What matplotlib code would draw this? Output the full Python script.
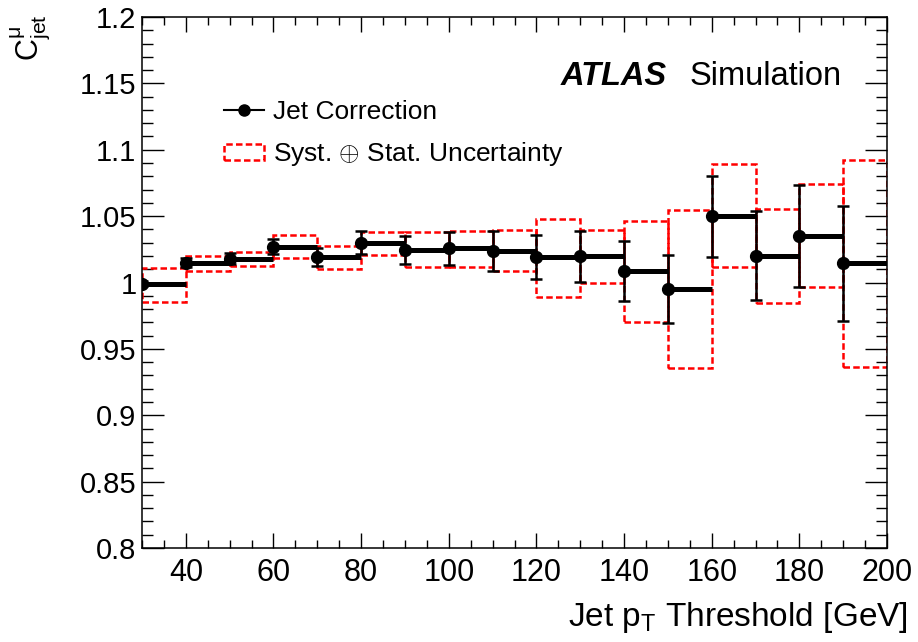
import matplotlib
matplotlib.use("Agg")
import matplotlib.pyplot as plt
from matplotlib.lines import Line2D
from matplotlib.patches import Patch
from matplotlib.ticker import MultipleLocator, FixedLocator, FuncFormatter

# Jet pT threshold bins (lower edges, GeV) and bin width
pt_threshold = [30, 40, 50, 60, 70, 80, 90, 100, 110, 120, 130, 140, 150, 160, 170, 180, 190]
bin_width = 10

# Jet correction factor and its statistical uncertainty
correction = [0.999, 1.015, 1.018, 1.027, 1.019, 1.030, 1.0245, 1.0258, 1.0237, 1.019,
              1.0197, 1.009, 0.995, 1.050, 1.0202, 1.0353, 1.0145]
stat_err = [0.002, 0.0034, 0.0044, 0.0056, 0.0068, 0.0088, 0.0108, 0.0123, 0.015, 0.0166,
            0.0194, 0.0226, 0.0256, 0.0305, 0.0337, 0.0385, 0.0435]

# Syst. (+) Stat. uncertainty band edges
band_up = [1.0107, 1.0202, 1.0232, 1.0358, 1.0275, 1.0383, 1.0380, 1.0390, 1.0395, 1.0478,
           1.0395, 1.0466, 1.0546, 1.0893, 1.0551, 1.0740, 1.0923]
band_down = [0.9853, 1.0089, 1.0127, 1.0187, 1.0102, 1.0207, 1.0119, 1.0119, 1.0087, 0.9893,
             1.0000, 0.9705, 0.9358, 1.0117, 0.9848, 0.9968, 0.9366]

y_ticks = [0.8, 0.85, 0.9, 0.95, 1.0, 1.05, 1.1, 1.15, 1.2]
x_ticks = [40, 60, 80, 100, 120, 140, 160, 180, 200]

plt.rcParams["font.family"] = ["Liberation Sans", "DejaVu Sans"]
plt.rcParams["mathtext.fontset"] = "custom"
plt.rcParams["mathtext.rm"] = "Liberation Sans"
plt.rcParams["mathtext.it"] = "Liberation Sans:italic"

fig = plt.figure(figsize=(9.18, 6.42), dpi=100)
W, H = 918, 642
ax = fig.add_axes([142 / W, 1 - 548 / H, (887 - 142) / W, (548 - 17) / H])

# Uncertainty band: one dashed box per bin
heights = [u - d for u, d in zip(band_up, band_down)]
ax.bar(pt_threshold, heights, bottom=band_down, width=bin_width, align="edge",
       fill=False, edgecolor="#ff0000", linewidth=1.8, linestyle=(0, (2.6, 1.3)), zorder=2)

# Correction per bin: horizontal bar over the bin, point with stat error at the lower edge
right_edges = [p + bin_width for p in pt_threshold]
ax.hlines(correction, pt_threshold, right_edges, colors="black", linewidth=3.6, zorder=3)
ax.errorbar(pt_threshold, correction, yerr=stat_err, fmt="o", color="black",
            markersize=8.5, elinewidth=1.8, capsize=4.5, capthick=1.8, zorder=3)

ax.set_xlim(30, 200)
ax.set_ylim(0.8, 1.2)

ax.xaxis.set_major_locator(FixedLocator(x_ticks))
ax.xaxis.set_minor_locator(MultipleLocator(5))
ax.yaxis.set_major_locator(FixedLocator(y_ticks))
ax.yaxis.set_minor_locator(MultipleLocator(0.01))
ax.yaxis.set_major_formatter(FuncFormatter(lambda v, _: f"{round(v, 3):g}"))

ax.tick_params(which="both", direction="in", top=True, right=True, width=1.0)
ax.tick_params(axis="x", which="major", length=11, pad=7, labelsize=20)
ax.tick_params(axis="x", which="minor", length=5.8)
ax.tick_params(axis="y", which="major", length=15.5, pad=4, labelsize=21)
ax.tick_params(axis="y", which="minor", length=8)
for lab in ax.get_xticklabels():
    lab.set_fontfamily(["Liberation Sans Narrow", "Liberation Sans"])
    lab.set_fontsize(22)
for s in ax.spines.values():
    s.set_linewidth(1.1)

fig.text(908 / W, 1 - 626 / H, r"Jet p$_{\mathrm{T}}$ Threshold [GeV]", fontsize=24,
         ha="right", va="baseline")
fig.text(30 / W, 1 - 38 / H, r"C$^{\mathrm{μ}}_{\mathrm{jet}}$", rotation=90, fontsize=22,
         ha="center", va="center")

# ATLAS label
fig.text(561 / W, 1 - 85 / H, "ATLAS", fontsize=23.5, fontweight="bold", fontstyle="italic",
         va="baseline", ha="left")
fig.text(690 / W, 1 - 85 / H, "Simulation", fontsize=23.5, va="baseline", ha="left")

# Legend
handles = [
    Line2D([], [], color="black", marker="o", markersize=8, linewidth=1.5),
    Patch(facecolor="none", edgecolor="#ff0000", linewidth=1.8, linestyle=(0, (2.6, 1.3))),
]
labels = ["Jet Correction", r"Syst. $\oplus$ Stat. Uncertainty"]
ax.legend(handles, labels, loc="upper left", bbox_to_anchor=(224 / W, 1 - 100 / H),
          bbox_transform=fig.transFigure, frameon=False, fontsize=19,
          handlelength=1.5, handleheight=0.55, handletextpad=0.35, labelspacing=0.62,
          borderpad=0.0, borderaxespad=0.0)

fig.savefig("out.png", dpi=100)
